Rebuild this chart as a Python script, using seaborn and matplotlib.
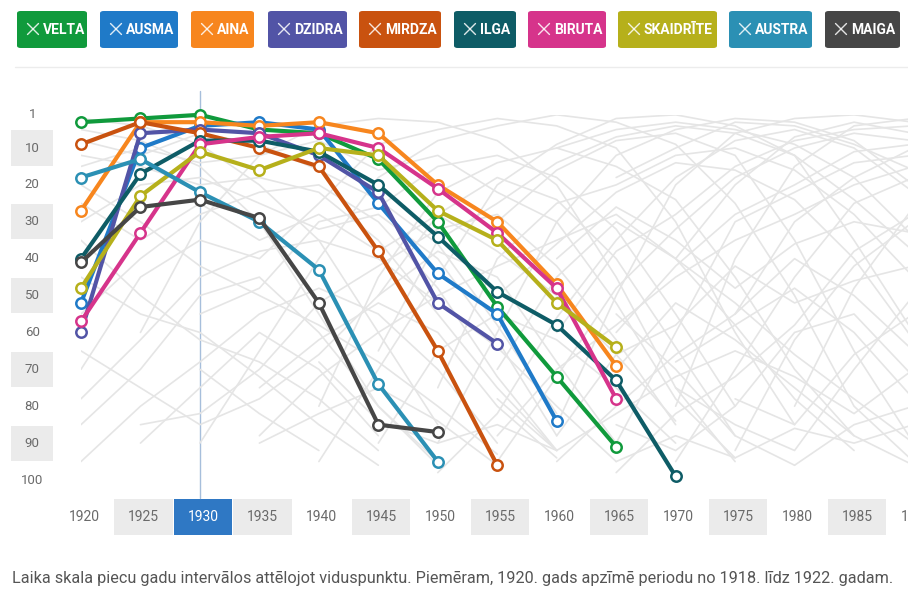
import numpy as np
import pandas as pd
import matplotlib
matplotlib.use('Agg')
import matplotlib.pyplot as plt
from matplotlib.patches import Rectangle, FancyBboxPatch
import seaborn as sns

n = np.nan

# --- dati ---------------------------------------------------------------
years = [1920, 1925, 1930, 1935, 1940, 1945, 1950, 1955, 1960, 1965,
         1970, 1975, 1980, 1985, 1990]
selected_year = 1930

names = ['VELTA', 'AUSMA', 'AINA', 'DZIDRA', 'MIRDZA',
         'ILGA', 'BIRUTA', 'SKAIDRĪTE', 'AUSTRA', 'MAIGA']
colors = ['#109a3c', '#1f7ac8', '#f7861e', '#5254a6', '#c9520f',
          '#0e5c66', '#d6348b', '#b6b01b', '#2b90b4', '#464646']

# vieta top-100 sarakstā (1 = populārākais), sākot ar 1920
velta = [3, 2, 1, 5, 6, 13, 30, 53, 72, 91]
ausma = [52, 10, 4, 3, 5, 25, 44, 55, 84]
aina = [27, 3, 3, 4, 3, 6, 20, 30, 47, 69]
dzidra = [60, 6, 5, 6, 12, 22, 52, 63]
mirdza = [9, 3, 6, 10, 15, 38, 65, 96]
ilga = [40, 17, 8, 8, 11, 20, 34, 49, 58, 73, 99]
biruta = [57, 33, 9, 7, 6, 10, 21, 33, 48, 78]
skaidrite = [48, 23, 11, 16, 10, 12, 27, 35, 52, 64]
austra = [18, 13, 22, 30, 43, 74, 95]
maiga = [41, 26, 24, 29, 52, 85, 87]
highlight = [velta, ausma, aina, dzidra, mirdza,
             ilga, biruta, skaidrite, austra, maiga]

# pārējie vārdi (pelēkais fons)
background = [
    [5, 8, 15, 30, 55, 80, 96],
    [n, 60, 30, 12, 4, 2, 3, 8, 20, 45, 75, 95],
    [70, 45, 35, 40, 25, 9, 5, 2, 4, 10, 30, 60, 85],
    [n, n, 90, 65, 40, 18, 8, 4, 1, 3, 9, 25, 50, 80, 95],
    [n, n, n, n, 95, 70, 45, 20, 9, 2, 1, 4, 12, 35, 60],
    [n, n, n, n, n, n, 90, 60, 30, 12, 5, 2, 3, 8, 20],
    [n, n, n, n, n, n, n, n, 85, 50, 20, 6, 2, 1, 3],
    [n, n, n, n, n, n, n, n, n, n, 80, 40, 15, 4, 2],
    [2, 4, 9, 20, 35, 60, 85],
    [12, 15, 20, 18, 22, 35, 55, 75, 92],
    [30, 20, 18, 25, 32, 28, 40, 62, 88],
    [85, 70, 50, 45, 60, 80, 95],
    [95, 80, 68, 55, 48, 55, 70, 90],
    [65, 75, 85, 78, 66, 50, 38, 45, 68, 90],
    [45, 55, 60, 72, 85, 96],
    [n, 90, 75, 60, 70, 88],
    [20, 30, 42, 50, 58, 68, 80, 93],
    [n, n, 55, 48, 30, 26, 15, 12, 18, 32, 55, 80],
    [n, n, n, 88, 72, 60, 50, 42, 35, 28, 40, 58, 78, 92],
    [n, n, n, n, n, 90, 65, 55, 62, 75, 90],
    [n, n, n, n, 80, 45, 22, 14, 10, 15, 24, 45, 70, 88],
    [n, n, n, n, n, n, n, 95, 72, 48, 32, 18, 10, 6, 8],
    [n, n, n, n, n, n, n, n, 60, 38, 28, 15, 8, 5, 4],
    [n, n, n, n, n, n, 75, 40, 25, 20, 12, 10, 16, 28, 45],
    [n, n, n, n, n, n, n, 88, 70, 58, 45, 35, 28, 20, 15],
    [n, n, n, n, n, n, n, n, n, 90, 60, 30, 22, 14, 12],
    [n, n, n, n, n, n, n, n, n, n, 95, 70, 45, 25, 18],
    [n, n, n, n, n, n, n, n, 95, 80, 66, 55, 40, 50, 65],
    [n, n, n, n, n, n, n, n, n, 70, 52, 62, 75, 88, 96],
    [n, n, n, n, n, n, 98, 82, 56, 35, 18, 8, 5, 10, 22],
    [78, 62, 45, 38, 35, 40, 52, 64, 80, 95],
    [n, n, n, n, n, 65, 35, 25, 14, 7, 4, 6, 12, 24, 38],
    [n, n, n, n, n, n, n, n, n, n, n, 92, 62, 42, 30],
    [n, n, n, n, n, n, n, n, n, 98, 82, 72, 58, 38, 28],
    [55, 40, 28, 22, 20, 30, 48, 72, 92],
    [n, n, n, n, n, n, n, 70, 45, 30, 40, 52, 66, 78, 90],
    [n, n, n, n, n, n, n, n, n, n, 75, 85, 92, 70, 50],
    [n, n, n, n, n, n, n, n, n, 85, 92, 80, 60, 55, 72],
    [n, n, n, 90, 82, 75, 84, 96],
    [8, 12, 6, 9, 16, 24, 36, 58, 82],
    [n, n, n, n, n, n, n, n, n, n, 40, 20, 7, 3, 6],
    [n, n, n, n, n, n, n, 50, 36, 22, 14, 16, 24, 40, 62],
    [n, n, n, n, n, n, n, n, n, 60, 42, 28, 20, 11, 9],
    [n, n, n, n, n, n, n, n, n, n, n, 55, 30, 18, 10],
    [n, n, n, n, n, n, n, n, n, n, n, n, 80, 48, 26],
    [n, n, n, n, n, n, n, 30, 16, 8, 6, 12, 35, 65, 90],
    [n, n, n, n, n, 50, 28, 18, 24, 40, 64, 88],
    [n, n, n, n, n, n, n, n, 40, 26, 35, 48, 36, 30, 33],
    [n, n, n, n, n, n, n, n, n, 55, 70, 88, 96],
    [n, n, n, n, n, n, n, n, n, n, 68, 58, 48, 60, 78],
    [n, n, n, n, n, n, n, n, n, n, n, 78, 85, 66, 55],
    [35, 50, 62, 68, 78, 92],
    [n, 85, 82, 70, 52, 42, 32, 28, 42, 62, 85],
    [n, n, 70, 82, 92],
    [n, n, n, 75, 62, 52, 60, 80, 94],
    [n, n, n, n, 68, 84, 90, 85, 92],
    [n, n, n, n, n, n, n, n, n, n, n, n, 96, 85, 80],
    [n, n, n, n, n, n, n, n, n, 95, 88, 94, 86, 90, 85],
    [n, n, n, n, n, n, n, n, 88, 66, 58, 42, 52, 46, 42],
    [n, n, n, n, n, n, n, 78, 92, 82, 72, 65, 72, 82, 70],
    [15, 10, 14, 12, 8, 16, 12, 22, 30, 52, 78, 94],
    [25, 35, 25, 35, 28, 38, 28, 38, 50, 66, 84],
    [n, n, n, n, n, n, n, n, n, 18, 10, 3, 4, 9, 16],
    [n, n, n, n, n, n, n, n, 10, 5, 3, 5, 9, 18, 34],
]

rank_ticks = [1, 10, 20, 30, 40, 50, 60, 70, 80, 90, 100]
caption = ('Laika skala piecu gadu intervālos attēlojot viduspunktu. '
           'Piemēram, 1920. gads apzīmē periodu no 1918. līdz 1922. gadam.')


def to_long(series, labels):
    rows = []
    for label, ranks in zip(labels, series):
        for yr, r in zip(years, ranks):
            if not np.isnan(r):
                rows.append({'name': label, 'year': yr, 'rank': r})
    return pd.DataFrame(rows)


hl_df = to_long(highlight, names)
bg_df = to_long(background, [f'bg{i}' for i in range(len(background))])

# --- zīmējums -----------------------------------------------------------
sns.set_theme(style='white')
plt.rcParams['font.family'] = ['Roboto', 'DejaVu Sans']

W, H = 908, 589
fig = plt.figure(figsize=(W / 100, H / 100), dpi=100)
ax = fig.add_axes([81 / W, 1 - 480 / H, (913.5 - 81) / W, (480 - 114.8) / H])
ax.set_xlim(1920, 1990)
ax.set_ylim(100, 1)
ax.axis('off')

# pelēkās fona līnijas
sns.lineplot(data=bg_df, x='year', y='rank', units='name', estimator=None,
             color='#e5e5e5', linewidth=1.2, sort=False, legend=False, ax=ax)

# atlasītā gada vertikālā līnija
ax.plot([selected_year, selected_year], [-5.5, 105], color='#a6bedb',
        linewidth=1, clip_on=False, zorder=1)

# izceltie vārdi
palette = dict(zip(names, colors))
sns.lineplot(data=hl_df, x='year', y='rank', hue='name', hue_order=names,
             palette=palette, linewidth=3, marker='o', markersize=7.5,
             markerfacecolor='white', mew=1.8, sort=False, legend=False, ax=ax)
for line in ax.lines[len(background) + 1:]:
    line.set_markeredgecolor(line.get_color())
    line.set_clip_on(False)
    line.set_solid_capstyle('round')
    line.set_solid_joinstyle('round')

# y ass etiķetes ar pelēkām joslām
for r in rank_ticks:
    if r % 20 == 10:
        ax.add_patch(Rectangle((1914.1, r - 4.75), 3.55, 9.5, facecolor='#ebebeb',
                               edgecolor='none', clip_on=False, zorder=0))
    ax.text(1915.9, r, str(r), ha='center', va='center', fontsize=9.5,
            color='#6a6a6a', clip_on=False)

# x ass etiķetes
for yr in years:
    k = (yr - 1920) // 5
    fc = None
    tc = '#6a6a6a'
    if yr == selected_year:
        fc, tc = '#2f78c4', 'white'
    elif k % 2 == 1:
        fc = '#ebebeb'
    if fc:
        ax.add_patch(Rectangle((yr - 2.2, 105.1), 4.9, 9.8, facecolor=fc,
                               edgecolor='none', clip_on=False, zorder=0))
    ax.text(yr + 0.25, 110, str(yr), ha='center', va='center', fontsize=10,
            color=tc, clip_on=False)

# atdalošā līnija zem pogām
fig.add_artist(plt.Line2D([15 / W, 1], [1 - 67 / H] * 2, color='#ececec',
                          linewidth=1))

# "pogas" ar vārdiem
btn_x = [(17, 87), (100, 178), (191, 254), (268, 347), (359, 441),
         (454, 516), (528, 606), (618, 717), (729, 812), (825, 900)]
for (x0, x1), name, c in zip(btn_x, names, colors):
    fig.add_artist(FancyBboxPatch((x0 / W, 1 - 48 / H), (x1 - x0) / W, 37 / H,
                                  boxstyle='round,pad=0,rounding_size=0.004',
                                  facecolor=c, edgecolor='none',
                                  transform=fig.transFigure))
    # tievais krustiņš
    cx, cy, s = x0 + 16, 29, 5.5
    for dy in (s, -s):
        fig.add_artist(plt.Line2D([(cx - s) / W, (cx + s) / W],
                                  [1 - (cy - dy) / H, 1 - (cy + dy) / H],
                                  color='white', alpha=0.85, linewidth=1.0))
    fig.text((x0 + 26) / W, 1 - 29.5 / H, name, ha='left', va='center',
             fontsize=10, fontweight='bold', color='white')

fig.text(12 / W, 1 - 578 / H, caption, ha='left', va='center',
         fontsize=11.7, color='#555555')

fig.savefig('out.png', dpi=100)
plt.close(fig)
